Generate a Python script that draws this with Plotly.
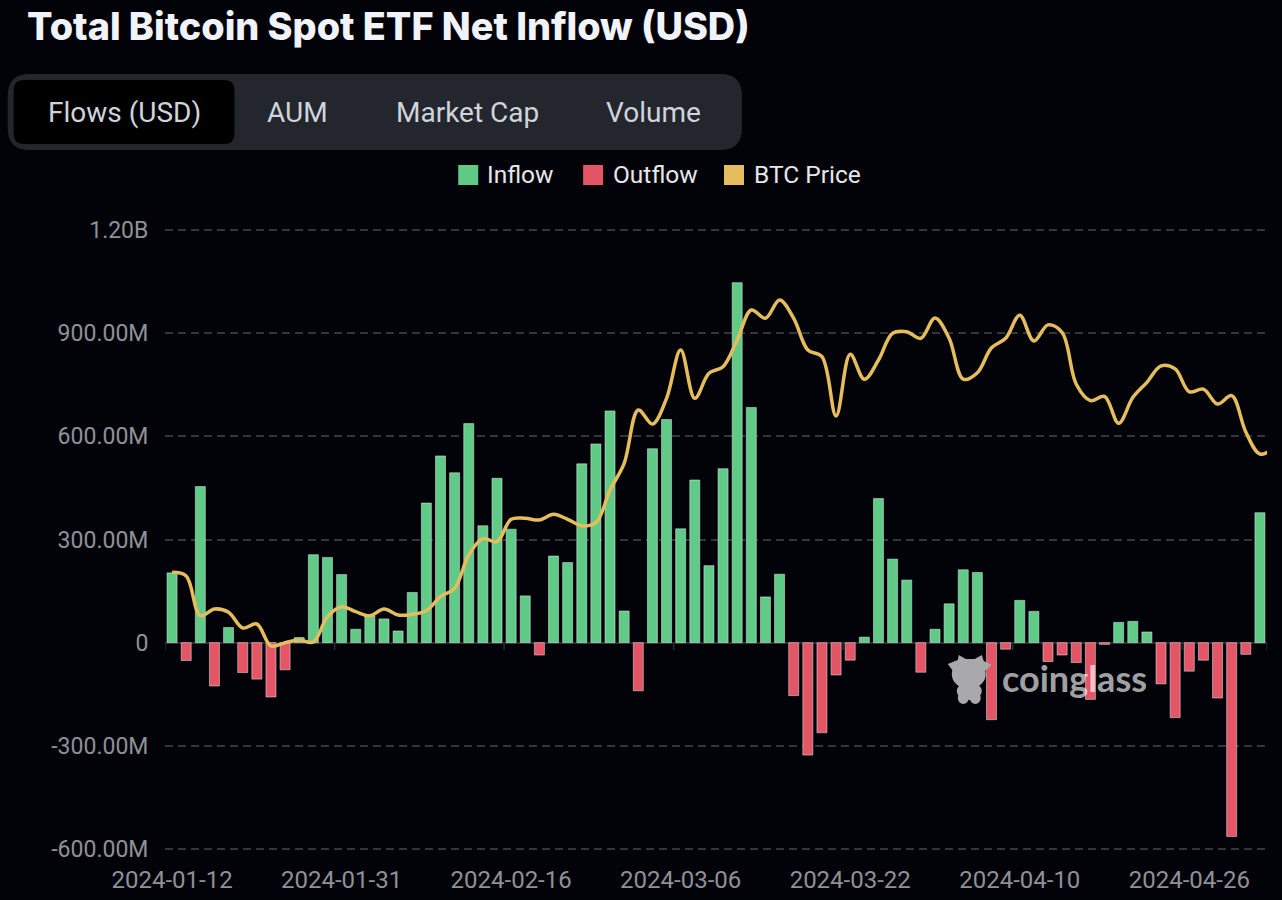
import plotly.graph_objects as go

dates = [
    "2024-01-12", "2024-01-16", "2024-01-17", "2024-01-18", "2024-01-19", "2024-01-22", "2024-01-23",
    "2024-01-24", "2024-01-25", "2024-01-26", "2024-01-29", "2024-01-30", "2024-01-31", "2024-02-01",
    "2024-02-02", "2024-02-05", "2024-02-06", "2024-02-07", "2024-02-08", "2024-02-09", "2024-02-12",
    "2024-02-13", "2024-02-14", "2024-02-15", "2024-02-16", "2024-02-20", "2024-02-21", "2024-02-22",
    "2024-02-23", "2024-02-26", "2024-02-27", "2024-02-28", "2024-02-29", "2024-03-01", "2024-03-04",
    "2024-03-05", "2024-03-06", "2024-03-07", "2024-03-08", "2024-03-11", "2024-03-12", "2024-03-13",
    "2024-03-14", "2024-03-15", "2024-03-18", "2024-03-19", "2024-03-20", "2024-03-21", "2024-03-22",
    "2024-03-25", "2024-03-26", "2024-03-27", "2024-03-28", "2024-04-01", "2024-04-02", "2024-04-03",
    "2024-04-04", "2024-04-05", "2024-04-08", "2024-04-09", "2024-04-10", "2024-04-11", "2024-04-12",
    "2024-04-15", "2024-04-16", "2024-04-17", "2024-04-18", "2024-04-19", "2024-04-22", "2024-04-23",
    "2024-04-24", "2024-04-25", "2024-04-26", "2024-04-29", "2024-04-30", "2024-05-01", "2024-05-02",
    "2024-05-03",
]

# net flows in millions of USD
flows = [
    203, -52, 454, -126, 44, -87, -106, -158, -79, 15, 256, 248, 198, 39, 78, 69, 34, 146, 406, 543,
    494, 637, 340, 478, 330, 136, -36, 252, 233, 520, 578, 674, 92, -140, 564, 649, 331, 473, 224, 506,
    1047, 684, 133, 199, -154, -327, -262, -94, -51, 16, 419, 243, 182, -86, 39, 113, 212, 204, -224, -19,
    123, 91, -55, -36, -58, -165, -5, 59, 62, 31, -120, -218, -83, -51, -161, -564, -34, 378,
]

# the price line runs on past the last bar, to the edge of the plot
price_dates = dates + ["2024-05-04"]
btc_price = [
    46970, 46600, 42630, 43300, 42970, 41400, 41800, 39600, 39930, 40200, 40000, 42530, 43530, 43030,
    42630, 43300, 42700, 42770, 43130, 44530, 45370, 48700, 50330, 50030, 52270, 52370, 52200, 52770,
    52270, 51630, 51930, 55200, 57870, 63200, 61800, 64370, 69200, 64370, 66870, 67530, 70200, 73200,
    72370, 74200, 72370, 69200, 68530, 62600, 68770, 66270, 68200, 70870, 71020, 70370, 72400, 70370,
    66280, 66930, 69420, 70370, 72670, 70100, 71710, 70950, 65780, 64140, 64560, 61880, 64440, 65970,
    67620, 67310, 65020, 65280, 63800, 64630, 61000, 58800, 59400,
]

y_ticks = [-600, -300, 0, 300, 600, 900, 1200]
y_labels = ["-600.00M", "-300.00M", "0", "300.00M", "600.00M", "900.00M", "1.20B"]
tab_labels = ["Flows (USD)", "AUM", "Market Cap", "Volume"]
tab_centers = [123.5, 297.5, 467, 653.5]
legend_items = [("Inflow", "#5fcb86", 458, 485), ("Outflow", "#e45565", 583, 611), ("BTC Price", "#e6bd5d", 724, 752)]

BG = "#020308"
WIDTH, HEIGHT = 1282, 900
LEFT, RIGHT, TOP, BOTTOM = 164.5, 1267.5, 229, 850
FONT = "Roboto"


def px(x):
    return (x - LEFT) / (RIGHT - LEFT)


def py(y):
    return (BOTTOM - y) / (BOTTOM - TOP)


def round_rect(x0, y0, x1, y1, r):
    pts = [
        f"M {px(x0 + r)} {py(y0)}", f"L {px(x1 - r)} {py(y0)}", f"Q {px(x1)} {py(y0)} {px(x1)} {py(y0 + r)}",
        f"L {px(x1)} {py(y1 - r)}", f"Q {px(x1)} {py(y1)} {px(x1 - r)} {py(y1)}",
        f"L {px(x0 + r)} {py(y1)}", f"Q {px(x0)} {py(y1)} {px(x0)} {py(y1 - r)}",
        f"L {px(x0)} {py(y0 + r)}", f"Q {px(x0)} {py(y0)} {px(x0 + r)} {py(y0)}", "Z",
    ]
    return " ".join(pts)


def note(text, x, y, size, color, anchor="center", family=FONT, weight=None):
    return dict(
        text=text, x=px(x), y=py(y), xref="paper", yref="paper", xanchor=anchor, yanchor="middle",
        showarrow=False, font=dict(size=size, color=color, family=family, weight=weight),
    )


def page_shape(kind, x0, y0, x1, y1, color):
    return dict(type=kind, xref="paper", yref="paper", x0=px(x0), x1=px(x1), y0=py(y0), y1=py(y1),
                fillcolor=color, line_width=0, layer="above")


fig = go.Figure()
fig.add_trace(go.Bar(x=dates, y=[v if v > 0 else None for v in flows], name="Inflow", marker_color="#5fcb86"))
fig.add_trace(go.Bar(x=dates, y=[v if v < 0 else None for v in flows], name="Outflow", marker_color="#e45565"))
fig.add_trace(go.Scatter(
    x=price_dates, y=btc_price, name="BTC Price", yaxis="y2", mode="lines",
    line=dict(color="#e6bd5d", width=3.5, shape="spline", smoothing=1.0),
))

shapes = [
    dict(type="path", path=round_rect(7, 74, 742, 150, 22), xref="paper", yref="paper",
         fillcolor="#23262d", line_width=0, layer="above"),
    dict(type="path", path=round_rect(13, 80, 234, 144, 10), xref="paper", yref="paper",
         fillcolor="#000000", line_width=0, layer="above"),
]
for _, color, x0, _ in legend_items:
    shapes.append(page_shape("rect", x0, 165, x0 + 20, 185, color))

# band edge ticks sitting on the zero line
for i in list(range(0, len(dates), 12)) + [len(dates)]:
    shapes.append(dict(type="line", xref="x", yref="y", x0=i - 0.5, x1=i - 0.5, y0=0, y1=-22,
                       line=dict(color="#2c2d33", width=1.5)))

# watermark mascot
MASCOT = "#a9a9ab"
shapes.append(page_shape("circle", 952, 659, 986, 689, MASCOT))
shapes.append(page_shape("circle", 957, 682, 982, 700, MASCOT))
shapes.append(page_shape("circle", 958, 692, 969, 704, MASCOT))
shapes.append(page_shape("circle", 970, 692, 981, 704, MASCOT))
horns = [(948, 664), (958, 660), (959, 655), (966, 659), (975, 659), (982, 655), (984, 661), (992, 665), (984, 672), (954, 672)]
path = f"M {px(horns[0][0])} {py(horns[0][1])} " + " ".join(f"L {px(a)} {py(b)}" for a, b in horns[1:]) + " Z"
shapes.append(dict(type="path", path=path, xref="paper", yref="paper", fillcolor=MASCOT, line_width=0, layer="above"))

annotations = [note("Total Bitcoin Spot ETF Net Inflow (USD)", 24, 26, 37.8, "#f0f3fa", "left", "Inter", 800)]
for label, cx in zip(tab_labels, tab_centers):
    annotations.append(note(label, cx, 112, 28, "#cfd4dc"))
for label, _, _, tx in legend_items:
    annotations.append(note(label, tx, 174, 24.5, "#e5e7ec", "left"))
annotations.append(note("coinglass", 1075, 678, 36, "rgba(255,255,255,0.65)", "center", "Lato", 700))

fig.update_layout(
    width=WIDTH, height=HEIGHT, margin=dict(l=LEFT, r=WIDTH - RIGHT, t=TOP, b=HEIGHT - BOTTOM, pad=0),
    paper_bgcolor=BG, plot_bgcolor=BG, barmode="overlay", bargap=0.29, showlegend=False,
    font=dict(family=FONT), shapes=shapes, annotations=annotations,
    xaxis=dict(
        type="category", categoryorder="array", categoryarray=price_dates, range=[-0.5, len(dates) - 0.5],
        tickmode="array", tickvals=dates[::12], ticktext=dates[::12], tickangle=0, showgrid=False,
        ticks="outside", ticklen=8, tickcolor="rgba(0,0,0,0)", tickfont=dict(size=24, color="#8e9197"),
        zeroline=False, showline=False, automargin=False,
    ),
    yaxis=dict(
        range=[-603, 1203], tickmode="array", tickvals=y_ticks, ticktext=y_labels,
        ticks="outside", ticklen=11, tickcolor="rgba(0,0,0,0)", tickfont=dict(size=23, color="#8e9197"),
        gridcolor="#34353b", griddash="8px,5px", gridwidth=1.5,
        zeroline=True, zerolinecolor="#2c2d33", zerolinewidth=2, showline=False, automargin=False,
    ),
    yaxis2=dict(overlaying="y", side="right", range=[19200, 81300], visible=False),
)

fig.write_html(
    "out.html",
    config=dict(displayModeBar=False),
    post_script="document.body.style.margin='0';document.body.style.background='#020308';document.body.style.overflow='hidden';",
)
